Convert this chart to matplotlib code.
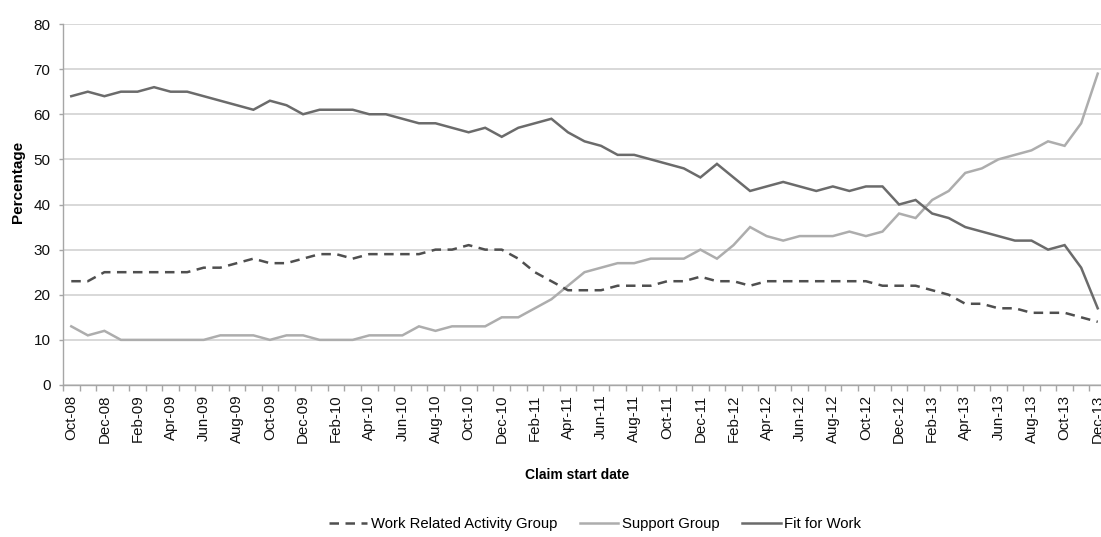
import matplotlib
matplotlib.use("Agg")
import matplotlib.pyplot as plt
import numpy as np
from matplotlib.lines import Line2D

months = ["Oct-08", "Nov-08", "Dec-08",
          "Jan-09", "Feb-09", "Mar-09", "Apr-09", "May-09", "Jun-09",
          "Jul-09", "Aug-09", "Sep-09", "Oct-09", "Nov-09", "Dec-09",
          "Jan-10", "Feb-10", "Mar-10", "Apr-10", "May-10", "Jun-10",
          "Jul-10", "Aug-10", "Sep-10", "Oct-10", "Nov-10", "Dec-10",
          "Jan-11", "Feb-11", "Mar-11", "Apr-11", "May-11", "Jun-11",
          "Jul-11", "Aug-11", "Sep-11", "Oct-11", "Nov-11", "Dec-11",
          "Jan-12", "Feb-12", "Mar-12", "Apr-12", "May-12", "Jun-12",
          "Jul-12", "Aug-12", "Sep-12", "Oct-12", "Nov-12", "Dec-12",
          "Jan-13", "Feb-13", "Mar-13", "Apr-13", "May-13", "Jun-13",
          "Jul-13", "Aug-13", "Sep-13", "Oct-13", "Nov-13", "Dec-13"]

wrag = [23, 23, 25, 25, 25, 25, 25, 25, 26, 26,
        27, 28, 27, 27, 28, 29, 29, 28, 29, 29,
        29, 29, 30, 30, 31, 30, 30, 28, 25, 23,
        21, 21, 21, 22, 22, 22, 23, 23, 24, 23,
        23, 22, 23, 23, 23, 23, 23, 23, 23, 22,
        22, 22, 21, 20, 18, 18, 17, 17, 16, 16,
        16, 15, 14]

support = [13, 11, 12, 10, 10, 10, 10, 10, 10, 11,
           11, 11, 10, 11, 11, 10, 10, 10, 11, 11,
           11, 13, 12, 13, 13, 13, 15, 15, 17, 19,
           22, 25, 26, 27, 27, 28, 28, 28, 30, 28,
           31, 35, 33, 32, 33, 33, 33, 34, 33, 34,
           38, 37, 41, 43, 47, 48, 50, 51, 52, 54,
           53, 58, 69]

fit = [64, 65, 64, 65, 65, 66, 65, 65, 64, 63,
       62, 61, 63, 62, 60, 61, 61, 61, 60, 60,
       59, 58, 58, 57, 56, 57, 55, 57, 58, 59,
       56, 54, 53, 51, 51, 50, 49, 48, 46, 49,
       46, 43, 44, 45, 44, 43, 44, 43, 44, 44,
       40, 41, 38, 37, 35, 34, 33, 32, 32, 30,
       31, 26, 17]

series_names = ["Work Related Activity Group", "Support Group", "Fit for Work"]

plt.rcParams['font.family'] = ['Liberation Sans', 'DejaVu Sans']

W, H = 1101, 537
fig = plt.figure(figsize=(W / 100, H / 100), dpi=100)
left, right, top, bottom = 63, 1106, 24, 385
ax = fig.add_axes([left / W, (H - bottom) / H, (right - left) / W, (bottom - top) / H])

x = np.arange(len(months))
c_wrag, c_sup, c_fit = '#4f4f4f', '#adadad', '#6b6b6b'
lw = 1.8
dash = (3.8, 2.6)
ax.plot(x, support, color=c_sup, lw=lw, solid_joinstyle='miter', zorder=3)
ax.plot(x, fit, color=c_fit, lw=lw, solid_joinstyle='miter', zorder=4)
ax.plot(x, wrag, color=c_wrag, lw=lw, dashes=dash, zorder=5)

ax.set_xlim(-0.5, len(months) - 0.5)
ax.set_ylim(0, 80)
ax.set_yticks(range(0, 81, 10))
ax.grid(axis='y', color='#d6d6d6', lw=1.3)
ax.set_axisbelow(True)

for s in ['top', 'right']:
    ax.spines[s].set_visible(False)
for s in ['left', 'bottom']:
    ax.spines[s].set_color('#a6a6a6')
    ax.spines[s].set_linewidth(1.0)

ax.tick_params(axis='y', length=3, width=1, color='#a6a6a6', pad=6, labelsize=11, labelcolor='#111111')

# category boundaries as tick marks, labels at every second category
ax.set_xticks(np.arange(-0.5, len(months), 1.0))
ax.set_xticklabels([])
ax.tick_params(axis='x', which='major', length=4, width=1, color='#a6a6a6')
ax.set_xticks(x[::2], minor=True)
ax.set_xticklabels(months[::2], minor=True, rotation=90, fontsize=10.8, color='#111111')
ax.tick_params(axis='x', which='minor', length=0, pad=7)

fig.text(18 / W, 1 - 182 / H, 'Percentage', rotation=90, ha='center', va='center',
         fontsize=11, fontweight='bold')
fig.text(577 / W, 1 - 475 / H, 'Claim start date', ha='center', va='center',
         fontsize=10, fontweight='bold')

handles = [Line2D([], [], color=c_wrag, lw=lw, dashes=dash),
           Line2D([], [], color=c_sup, lw=lw),
           Line2D([], [], color=c_fit, lw=lw)]
fig.legend(handles, series_names, loc='center', bbox_to_anchor=(595 / W, 1 - 524 / H),
           ncol=3, frameon=False, fontsize=10.7, handlelength=2.6, handletextpad=0.25,
           columnspacing=1.5)

fig.savefig('out.png', dpi=100)
